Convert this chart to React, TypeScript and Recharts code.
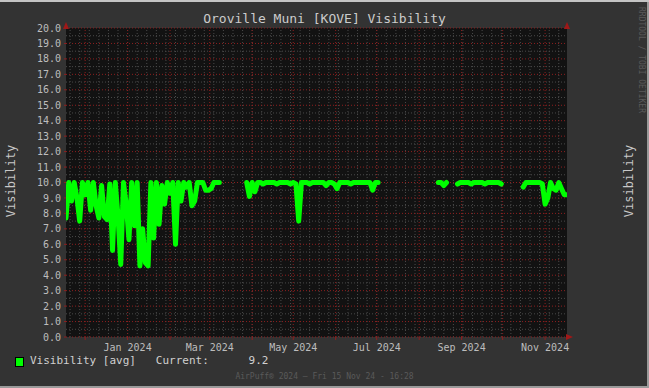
import { LineChart, Line, XAxis, YAxis, ReferenceLine, ReferenceArea, ReferenceDot } from 'recharts';

// x is counted in days from 1 Jan 2024; one sample every 2 days
const START_DAY = -45;
const END_DAY = 321;
const STEP_DAYS = 2;

const visibility: (number | null)[] = [
  // Nov 2023 - early Mar 2024
  7.7, 10, 8.8, 10, 9.0, 7.5, 10, 9.2, 10, 8.2,
  10, 8.5, 7.7, 9.8, 7.8, 7.6, 9.9, 5.6, 10, 7.8,
  4.7, 10, 8.6, 6.3, 10, 7.2, 10, 4.6, 7.0, 4.8,
  4.6, 10, 6.4, 10, 7.3, 9.8, 8.6, 10, 9.3, 10,
  6.0, 10, 8.8, 10, 9.7, 10, 8.5, 8.8, 10, 10,
  10, 9.5, 9.5, 9.6, 10, 10, 10,
  null, null, null, null, null, null, null, null, null,
  // Apr - Jun 2024
  10, 9.1, 10, 9.4, 10, 10, 9.9, 10, 10, 10,
  10, 9.9, 10, 10, 10, 10, 9.9, 10, 9.9, 7.5,
  10, 10, 10, 9.9, 10, 10, 10, 10, 10, 9.8,
  10, 10, 9.9, 9.6, 10, 10, 10, 10, 9.9, 10,
  10, 10, 10, 10, 10, 10, 9.5, 10, 10,
  null, null, null, null, null, null, null, null, null, null,
  null, null, null, null, null, null, null, null, null, null, null,
  // Aug - Sep 2024
  10, 10, 9.8, 10,
  null, null, null,
  9.9, 10, 10, 10, 10, 9.9, 10, 10, 10, 10, 9.9, 10, 10, 10, 10, 10, 9.9,
  null, null, null, null, null, null, null,
  // Oct - Nov 2024
  9.7, 10, 10, 10, 10, 10, 10, 9.9, 8.6, 9.0, 10, 9.6, 9.5, 10, 9.6, 9.2, 9.2,
];

const monthDays = [-31, 0, 31, 60, 91, 121, 152, 182, 213, 244, 274, 305];
const monthLabels = ['', 'Jan 2024', '', 'Mar 2024', '', 'May 2024', '', 'Jul 2024', '', 'Sep 2024', '', 'Nov 2024'];
const yTicks = [0, 1, 2, 3, 4, 5, 6, 7, 8, 9, 10, 11, 12, 13, 14, 15, 16, 17, 18, 19, 20];

const data = visibility.map((v, i) => ({ day: START_DAY + i * STEP_DAYS, v }));

const weekDays: number[] = [];
for (let d = -42; d < END_DAY; d += 7) weekDays.push(d);
const halfSteps = yTicks.slice(0, 20).map((t) => t + 0.5);

const MONO = '"DejaVu Sans Mono", monospace';
const RED = '#8e1f1f';
const MINOR = '#4a4a4a';

const upArrow = (props: any) => (
  <path d={`M${props.cx - 3},${props.cy + 1} L${props.cx + 3},${props.cy + 1} L${props.cx},${props.cy - 6} Z`} fill="#a01818" />
);
const rightArrow = (props: any) => (
  <path d={`M${props.cx - 1},${props.cy - 3} L${props.cx - 1},${props.cy + 3} L${props.cx + 6},${props.cy} Z`} fill="#a01818" />
);

export default function App() {
  const tickStyle = { fill: '#bdbdbd', fontSize: 10, fontFamily: MONO };
  return (
    <div
      style={{
        position: 'absolute', left: 0, top: 0, width: 649, height: 388, background: '#333333',
        boxShadow: 'inset 0 2px 0 #c4c4c4, inset -2px 0 0 #9a9a9a, inset 0 -2px 0 #9a9a9a',
        fontFamily: MONO, overflow: 'hidden',
      }}
    >
      <div style={{ position: 'absolute', left: 0, width: 649, top: 11, textAlign: 'center', color: '#cccccc', fontSize: 13 }}>
        Oroville Muni [KOVE] Visibility
      </div>
      <div style={{ position: 'absolute', left: 11, top: 181, transform: 'translate(-50%, -50%) rotate(-90deg)', color: '#c8c8c8', fontSize: 12, whiteSpace: 'nowrap' }}>
        Visibility
      </div>
      <div style={{ position: 'absolute', left: 629, top: 181, transform: 'translate(-50%, -50%) rotate(-90deg)', color: '#c8c8c8', fontSize: 12, whiteSpace: 'nowrap' }}>
        Visibility
      </div>
      <div style={{ position: 'absolute', left: 641, top: 60, transform: 'translate(-50%, -50%) rotate(90deg)', color: '#5a5a5a', fontSize: 8, whiteSpace: 'nowrap' }}>
        RRDTOOL / TOBI OETIKER
      </div>
      <div style={{ position: 'absolute', left: 0, top: 0 }}>
        <LineChart width={649} height={388} data={data} margin={{ top: 28, right: 0, bottom: 0, left: 0 }}>
          <XAxis
            dataKey="day" type="number" domain={[START_DAY, END_DAY]} allowDataOverflow
            ticks={monthDays} interval={0} height={51}
            tickFormatter={(d: number) => monthLabels[monthDays.indexOf(d)] ?? ''}
            axisLine={false} tickLine={{ stroke: RED }} tickSize={3} tickMargin={4} tick={tickStyle}
          />
          <YAxis
            yAxisId="left" orientation="left" width={66} domain={[0, 20]} ticks={yTicks} interval={0}
            tickFormatter={(v: number) => v.toFixed(1)} axisLine={false}
            tickLine={{ stroke: RED }} tickSize={2} tickMargin={3} tick={tickStyle}
          />
          <YAxis
            yAxisId="right" orientation="right" width={82} domain={[0, 20]} ticks={yTicks} interval={0}
            tickFormatter={(v: number) => v.toFixed(1)} axisLine={false}
            tickLine={{ stroke: RED }} tickSize={2} tickMargin={6} tick={tickStyle}
          />
          <ReferenceArea yAxisId="left" x1={START_DAY} x2={END_DAY} y1={0} y2={20} fill="#121212" fillOpacity={1} stroke="none" zIndex={-300} />
          {weekDays.map((d) => (
            <ReferenceLine key={'w' + d} yAxisId="left" x={d} stroke={MINOR} strokeDasharray="1 2" zIndex={-200} />
          ))}
          {halfSteps.map((y) => (
            <ReferenceLine key={'h' + y} yAxisId="left" y={y} stroke={MINOR} strokeDasharray="1 2" zIndex={-200} />
          ))}
          {yTicks.map((y) => (
            <ReferenceLine key={'y' + y} yAxisId="left" y={y} stroke={RED} strokeDasharray="1 2" zIndex={-150} />
          ))}
          {monthDays.map((d) => (
            <ReferenceLine key={'m' + d} yAxisId="left" x={d} stroke={RED} strokeDasharray="1 2" zIndex={-150} />
          ))}
          <Line
            yAxisId="left" type="linear" dataKey="v" stroke="#00ff00" strokeWidth={5}
            strokeLinecap="round" strokeLinejoin="round" dot={false} activeDot={false}
            isAnimationActive={false}
          />
          <ReferenceDot yAxisId="left" x={START_DAY} y={20} ifOverflow="visible" shape={upArrow} />
          <ReferenceDot yAxisId="left" x={END_DAY} y={20} ifOverflow="visible" shape={upArrow} />
          <ReferenceDot yAxisId="left" x={END_DAY} y={0} ifOverflow="visible" shape={rightArrow} />
        </LineChart>
      </div>
      <div style={{ position: 'absolute', left: 15, top: 357, width: 7, height: 8, background: '#00ff00', border: '1px solid #000' }} />
      <div style={{ position: 'absolute', left: 30, top: 354, color: '#d0d0d0', fontSize: 11, whiteSpace: 'pre' }}>
        {'Visibility [avg]   Current:      9.2'}
      </div>
      <div style={{ position: 'absolute', left: 0, width: 649, top: 372, textAlign: 'center', color: '#5a5a5a', fontSize: 8 }}>
        AirPuff® 2024 — Fri 15 Nov 24 - 16:28
      </div>
    </div>
  );
}
